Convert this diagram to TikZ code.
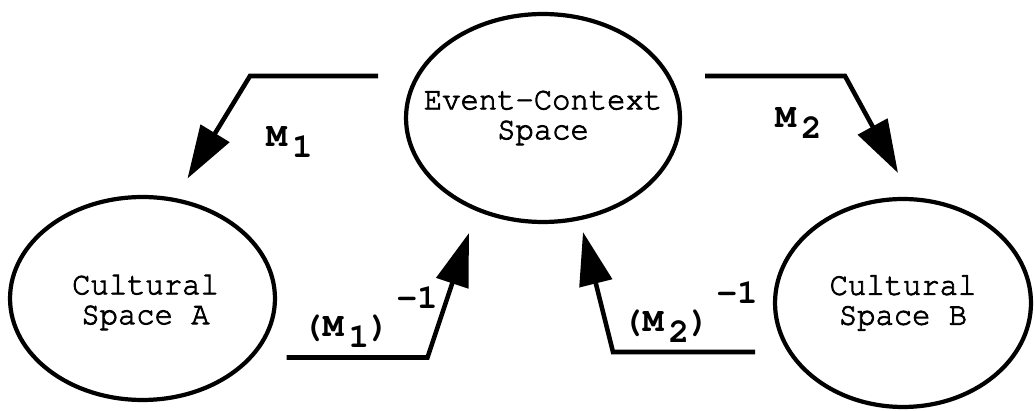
\documentclass[tikz,border=0pt]{standalone}
\usepackage{fontspec}
\setmonofont[FakeBold=2.5, FakeStretch=0.95]{TeX Gyre Cursor}
\newfontfamily\lblfont{TeX Gyre Cursor Bold}
\usetikzlibrary{shapes.geometric,arrows.meta}

\newcommand{\mapsub}[2]{#1\hspace{0.15em}\raisebox{-6.2pt}{#2}}

\begin{document}
\begin{tikzpicture}[
  x=0.02cm, y=-0.02cm,
  font=\ttfamily\fontsize{18.3pt}{17pt}\selectfont,
  cspace/.style={ellipse, draw=black, line width=2.4pt, inner sep=0pt},
  ctext/.style={align=center},
  mapping/.style={line width=2.6pt, -{Triangle[length=1.06cm, width=0.66cm]}},
  maplbl/.style={font=\lblfont\fontsize{19.5pt}{18pt}\selectfont,
                 inner sep=0pt, anchor=base west},
]

\useasboundingbox (0,0) rectangle (1035,411);

% --- spaces ---
\node[cspace, minimum width=5.48cm, minimum height=4.16cm,
      label={[ctext]center:Event-Context\\Space}] (ec) at (543,118) {};
\node[cspace, minimum width=5.3cm, minimum height=4.06cm,
      label={[ctext, xshift=0.06cm, yshift=-0.08cm]center:Cultural\\Space A}] (ca) at (142.5,298.5) {};
\node[cspace, minimum width=5.12cm, minimum height=4.16cm,
      label={[ctext]center:Cultural\\Space B}] (cb) at (903,303) {};

% --- mappings ---
\draw[mapping] ([shift={(-165,-42)}]ec.center) -- ++(-128,0) -- ([shift={(45,-120)}]ca.center);
\draw[mapping] ([shift={(162,-42)}]ec.center) -- ++(140,0) -- ([shift={(-5,-130)}]cb.center);
\draw[mapping] ([shift={(144,59)}]ca.center) -- ++(141,0) -- ([shift={(-74,115)}]ec.center);
\draw[mapping] ([shift={(-148,49)}]cb.center) -- ++(-142,0) -- ([shift={(40,114)}]ec.center);

% --- labels ---
\node[maplbl] (m1) at (266,147) {\mapsub{M}{1}};
\node[maplbl] (m2) at (775,128) {\mapsub{M}{2}};
\node[maplbl] (m1inv) at (302,337) {(\mapsub{M}{1})\hspace{0.2em}\raisebox{16.5pt}{-1}};
\node[maplbl] (m2inv) at (622,332) {(\mapsub{M}{2})\hspace{0.2em}\raisebox{16.5pt}{-1}};

\end{tikzpicture}
\end{document}
